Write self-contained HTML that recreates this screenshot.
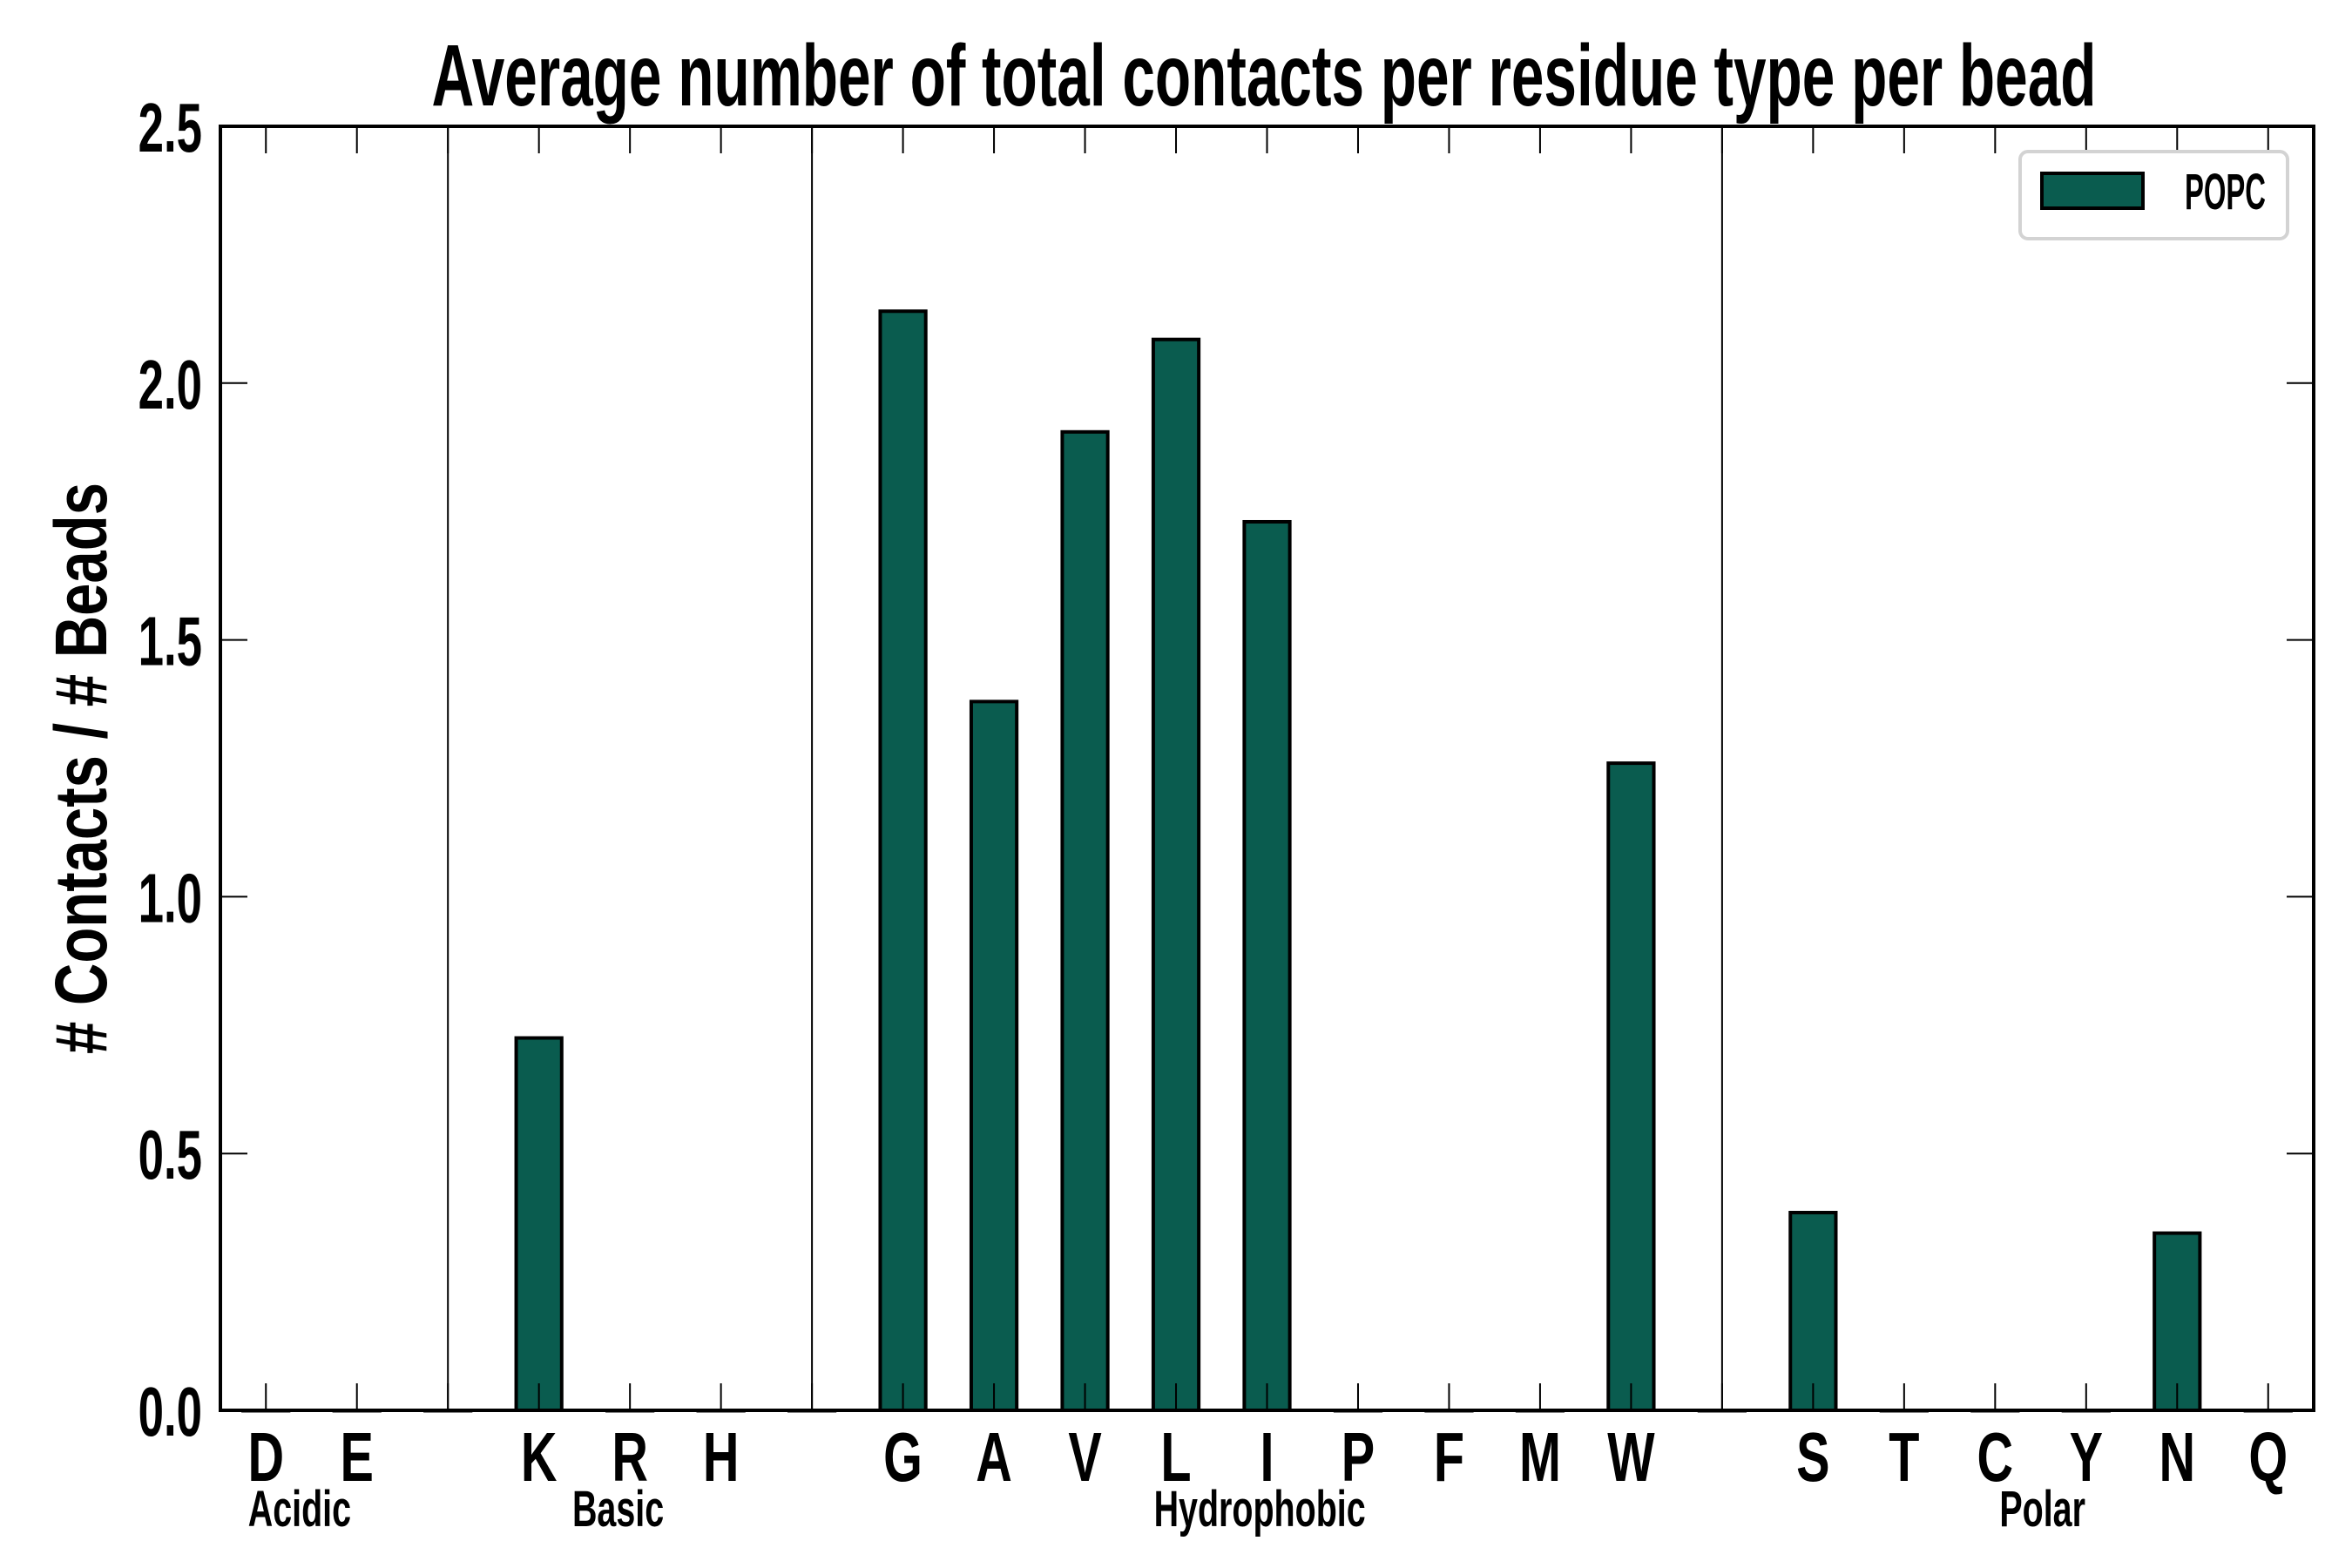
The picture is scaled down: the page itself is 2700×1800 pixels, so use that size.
<!DOCTYPE html>
<html><head><meta charset="utf-8"><style>
html,body{margin:0;padding:0;background:#fff;}
svg{display:block;font-family:"Liberation Sans",sans-serif;font-weight:bold;}
</style></head><body>
<svg id="chart" width="2700" height="1800" viewBox="0 0 2700 1800">
<text x="1451" y="121" font-size="100" text-anchor="middle" textLength="1911" lengthAdjust="spacingAndGlyphs">Average number of total contacts per residue type per bead</text>
<text transform="translate(122,882) rotate(-90)" font-size="84" text-anchor="middle" textLength="656" lengthAdjust="spacingAndGlyphs"># Contacts / # Beads</text>
<g id="plot"></g>
<g>
<rect x="2319" y="174" width="307" height="100" rx="9" fill="#fff" stroke="#d3d3d3" stroke-width="4"/>
<rect x="2344" y="199" width="116" height="40" fill="#0a5c4f" stroke="#000" stroke-width="4"/>
<text x="2508" y="240" font-size="58" textLength="93" lengthAdjust="spacingAndGlyphs">POPC</text>
</g>
</svg>
<script>
const categories=["D","E","","K","R","H","","G","A","V","L","I","P","F","M","W","","S","T","C","Y","N","Q"];
const values=[0,0,0,0.725,0,0,0,2.14,1.38,1.905,2.085,1.73,0,0,0,1.26,0,0.385,0,0,0,0.345,0];
const yTicks=[0,0.5,1.0,1.5,2.0,2.5];
const yTickLabels=["0.0","0.5","1.0","1.5","2.0","2.5"];
const groups=["Acidic","Basic","Hydrophobic","Polar"];
const groupCenters=[0.37,3.87,10.92,19.52];
const dividers=[2,6,16];
const L=253,R=2656,T=145,B=1619;
const xs=i=>L+(i+0.5)*(R-L)/categories.length;
const ys=v=>B-v/2.5*(B-T);
const NS="http://www.w3.org/2000/svg";
const g=document.getElementById('plot');
function mk(tag,a){const e=document.createElementNS(NS,tag);for(const k in a)e.setAttribute(k,a[k]);g.appendChild(e);return e;}
const bw=0.5*(R-L)/categories.length;
values.forEach((v,i)=>{
 const e=mk('rect',{x:xs(i)-bw/2,y:ys(v),width:bw,height:Math.max(B-ys(v),0.5),fill:'#0a5c4f',stroke:'#000','stroke-width':4});
 
 
});
dividers.forEach(d=>{
 const e=mk('line',{x1:xs(d),x2:xs(d),y1:T,y2:B,stroke:'#000','stroke-width':2});
 
 
});
categories.forEach((c,i)=>{
 const x=xs(i);
 mk('line',{x1:x,x2:x,y1:B,y2:B-31,stroke:'#000','stroke-width':2});
 mk('line',{x1:x,x2:x,y1:T,y2:T+31,stroke:'#000','stroke-width':2});
 if(c){const t=mk('text',{x:x,y:1700,'font-size':80,'text-anchor':'middle',transform:`translate(${x},0) scale(0.72,1) translate(${-x},0)`});t.textContent=c;
 
 }
});
yTicks.forEach((v,i)=>{
 const y=ys(v);
 mk('line',{x1:L,x2:L+31,y1:y,y2:y,stroke:'#000','stroke-width':2});
 mk('line',{x1:R,x2:R-31,y1:y,y2:y,stroke:'#000','stroke-width':2});
 const t=mk('text',{x:232,y:y+29,'font-size':80,'text-anchor':'end',transform:`translate(232,0) scale(0.66,1) translate(-232,0)`});
 t.textContent=yTickLabels[i];
 
 
});
groups.forEach((n,i)=>{
 const x=xs(groupCenters[i]);
 const t=mk('text',{x:x,y:1752,'font-size':58,'text-anchor':'middle',transform:`translate(${x},0) scale(0.68,1) translate(${-x},0)`});
 t.textContent=n;
 
 
});
const f=mk('rect',{x:L,y:T,width:R-L,height:B-T,fill:'none',stroke:'#000','stroke-width':4});


</script>
</body></html>
